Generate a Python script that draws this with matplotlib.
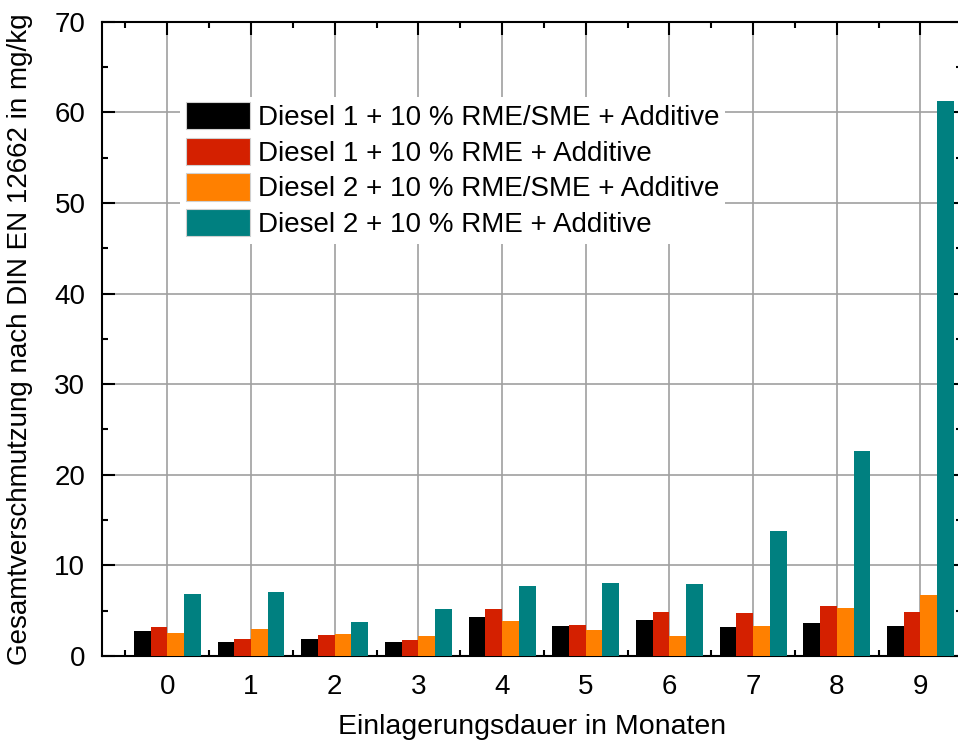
import matplotlib.pyplot as plt
import numpy as np

plt.rcParams['font.family'] = ['Liberation Sans', 'DejaVu Sans']

months = [0, 1, 2, 3, 4, 5, 6, 7, 8, 9]
labels = ["Diesel 1 + 10 % RME/SME + Additive",
          "Diesel 1 + 10 % RME + Additive",
          "Diesel 2 + 10 % RME/SME + Additive",
          "Diesel 2 + 10 % RME + Additive"]
d1_rme_sme = [2.7, 1.5, 1.9, 1.5, 4.25, 3.25, 3.95, 3.15, 3.6, 3.35]
d1_rme = [3.2, 1.9, 2.3, 1.75, 5.2, 3.4, 4.85, 4.7, 5.5, 4.85]
d2_rme_sme = [2.5, 3.0, 2.4, 2.2, 3.9, 2.9, 2.2, 3.25, 5.3, 6.75]
d2_rme = [6.85, 7.05, 3.7, 5.15, 7.75, 8.0, 7.9, 13.8, 22.6, 61.25]
colors = ["#000000", "#d42000", "#ff8000", "#008080"]

fig = plt.figure(figsize=(9.58, 7.42), dpi=100)
# right spine sits just past the figure edge
ax = fig.add_axes([0.1065, 0.116, 0.898, 0.8545])

x = np.array(months)
w = 0.2
series = [d1_rme_sme, d1_rme, d2_rme_sme, d2_rme]
for i, (vals, c, lab) in enumerate(zip(series, colors, labels)):
    ax.bar(x + (i - 1.5) * w, vals, w, color=c, label=lab, zorder=3)

ax.set_xlim(-0.78, 9.42)
ax.set_ylim(0, 70)
ax.set_xticks(months)
ax.set_xticks(np.arange(-0.5, 9.6, 1), minor=True)
ax.set_yticks(range(0, 71, 10))
ax.set_yticks(range(5, 70, 10), minor=True)
ax.grid(True, which='major', color='#a0a0a0', linewidth=1.2, zorder=0)
ax.set_axisbelow(True)

ax.tick_params(which='both', direction='in', top=True, right=True,
               labelsize=20, width=1.5)
ax.tick_params(which='major', length=9)
ax.tick_params(which='minor', length=4.5)
ax.tick_params(axis='x', pad=13)
ax.tick_params(axis='y', pad=12)
for s in ax.spines.values():
    s.set_linewidth(1.5)

ax.set_xlabel("Einlagerungsdauer in Monaten", fontsize=20.5, labelpad=10)
ax.set_ylabel("Gesamtverschmutzung nach DIN EN 12662 in mg/kg", fontsize=20)
ax.yaxis.set_label_coords(-0.08, 0.5)

leg = ax.legend(loc='upper left', bbox_to_anchor=(0.091, 0.882), fontsize=20,
                frameon=True, framealpha=1, edgecolor='none', fancybox=False,
                handlelength=2.3, handleheight=1.12, labelspacing=0.24,
                handletextpad=0.3, borderpad=0.2, borderaxespad=0)
for h in leg.legend_handles:
    h.set_edgecolor('#d0d0d0')
    h.set_linewidth(0.8)

fig.savefig("out.png", dpi=100)
